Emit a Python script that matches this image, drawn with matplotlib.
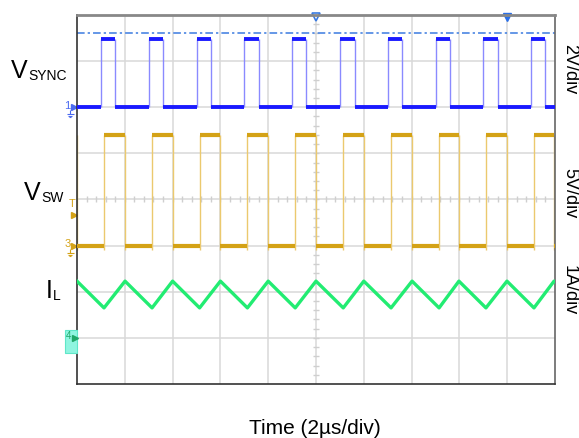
import numpy as np
import matplotlib
matplotlib.use("Agg")
import matplotlib.pyplot as plt
from matplotlib.patches import Rectangle

plt.rcParams['font.family'] = ['Liberation Sans', 'DejaVu Sans']

# scope settings (per division)
t_div = 2.0          # us/div
sync_vdiv = 2.0      # V/div
sw_vdiv = 5.0        # V/div
il_adiv = 1.0        # A/div

# ground reference positions (divisions from bottom)
sync_gnd = 6.0
sw_gnd = 3.0
il_gnd = 1.0

# V_SYNC edges (us) and levels (V)
t_sync_rise = [1.0, 3.0, 5.0, 7.0, 9.0, 11.0, 13.0, 15.0, 17.0, 19.0]
t_sync_fall = [1.61, 3.61, 5.62, 7.6, 9.6, 11.62, 13.6, 15.62, 17.6, 19.58]
v_sync_low = 0.0
v_sync_high = 2.95
v_sync_trig = 3.22

# V_SW edges (us) and levels (V)
t_sw_rise = [1.13, 3.14, 5.13, 7.13, 9.13, 11.14, 13.14, 15.15, 17.11, 19.12]
t_sw_fall = [0.02, 2.01, 4.0, 6.0, 8.0, 10.0, 12.0, 14.02, 15.98, 17.99, 19.96]
v_sw_low = 0.0
v_sw_high = 12.0

# inductor current (A)
il_peak = 1.23
il_valley = 0.65
il_end = 1.22

# markers on top of screen (us)
t_trig_pos = 10.0
t_cursor = 18.0

BLUE = "#1a1aff"
YELLOW = "#d4a216"
GREEN = "#22ec72"


def px(x, y):
    return x / 579, 1 - y / 438


def flat(y, x0, x1, **kw):
    # horizontal pieces of a trace at one level
    ax.hlines([y] * len(x0), x0, x1, **kw)


def ground(xp, yp, color):
    # little earth symbol, given in screen pixels
    sx = 20 / 478
    sy = 1 / 46.125
    x0 = (xp - 77) * sx
    y0 = (384 - yp) * sy
    kw = dict(color=color, lw=0.8, clip_on=False, solid_capstyle="butt")
    ax.plot([x0, x0], [y0, y0 - 4 * sy], **kw)
    for k, w in enumerate([3.5, 2.3, 1.0]):
        yy = y0 - (4 + 1.6 * k) * sy
        ax.plot([x0 - w * sx, x0 + w * sx], [yy, yy], **kw)


fig = plt.figure(figsize=(5.79, 4.38), dpi=100)
ax = fig.add_axes([77 / 579, 1 - 384 / 438, 478 / 579, 369 / 438])
ax.set_xlim(0, 10 * t_div)
ax.set_ylim(0, 8)

# graticule
for i in range(1, 10):
    ax.axvline(i * t_div, color="#d9d9d9", lw=1.1, zorder=0)
for j in range(1, 8):
    ax.axhline(j, color="#d9d9d9", lw=1.1, zorder=0)
ax.plot(np.arange(0.4, 20, 0.4), np.full(49, 4.0), ls="none", marker="|",
        ms=5, mew=1, color="#cfcfcf", zorder=0)
ax.plot(np.full(39, 10.0), np.arange(0.2, 8, 0.2), ls="none", marker="_",
        ms=5, mew=1, color="#cfcfcf", zorder=0)
ax.set_xticks([])
ax.set_yticks([])
for s in ["left", "bottom"]:
    ax.spines[s].set_color("#333333")
    ax.spines[s].set_linewidth(1.2)
ax.spines["top"].set_color("#888888")
ax.spines["top"].set_linewidth(2)
ax.spines["right"].set_color("#666666")
ax.spines["right"].set_linewidth(1.2)

# --- V_SYNC (blue) ---
lo = sync_gnd + v_sync_low / sync_vdiv
hi = sync_gnd + v_sync_high / sync_vdiv
ax.axhline(sync_gnd + v_sync_trig / sync_vdiv, color="#3b7be0", lw=1.1,
           dashes=(5, 2, 1.5, 2), zorder=1)
ax.vlines(t_sync_rise + t_sync_fall, lo, hi, color="#8a8aff", lw=1.0, zorder=2)
flat(lo, [0.0] + t_sync_fall, t_sync_rise + [20.0], color=BLUE, lw=2.8,
     zorder=3)
flat(hi, t_sync_rise, t_sync_fall, color=BLUE, lw=2.8, zorder=3)

# --- V_SW (yellow) ---
lo = sw_gnd + v_sw_low / sw_vdiv
hi = sw_gnd + v_sw_high / sw_vdiv
ax.vlines(t_sw_rise + t_sw_fall, lo - 0.1, hi, color="#ebc96e", lw=1.0, zorder=2)
flat(lo, t_sw_fall, t_sw_rise + [20.0], color=YELLOW, lw=3.0, zorder=3)
flat(hi, t_sw_rise, t_sw_fall[1:], color=YELLOW, lw=3.0, zorder=3)

# --- I_L (green) ---
t_il = [0.0]
i_il = [il_peak]
for r, f in zip(t_sw_rise, t_sw_fall[1:]):
    t_il += [r, f]
    i_il += [il_valley, il_peak]
t_il.append(20.0)
i_il.append(il_end)
ax.plot(t_il, [il_gnd + v / il_adiv for v in i_il], color=GREEN, lw=2.4,
        zorder=3)

# channel markers on left edge
ax.plot(-0.12, sync_gnd, marker=">", ms=5, color="#4a6af0", clip_on=False)
ax.text(-0.4, sync_gnd + 0.03, "1", color="#4a6af0", fontsize=8,
        ha="center", va="center", clip_on=False)
ground(70, 110, "#4a6af0")
ax.plot(-0.12, sw_gnd, marker=">", ms=5, color=YELLOW, clip_on=False)
ax.text(-0.4, sw_gnd + 0.03, "3", color=YELLOW, fontsize=8, ha="center",
        va="center", clip_on=False)
ground(70, 249, YELLOW)
ax.plot(-0.12, 3.67, marker=">", ms=5, color=YELLOW, clip_on=False)
ax.text(-0.2, 3.9, "T", color=YELLOW, fontsize=8, ha="center",
        va="center", clip_on=False)
ax.add_patch(Rectangle((-0.5, 0.67), 0.48, 0.5, fc="#8ff5e0", ec="#5fe6c8",
                       lw=0.8, clip_on=False, zorder=4))
ax.text(-0.36, il_gnd + 0.03, "4", color="#20a868", fontsize=7,
        ha="center", va="center", clip_on=False, zorder=5)
ax.plot(-0.1, il_gnd, marker=">", ms=4, color="#20a868", clip_on=False,
        zorder=5)
ground(70, 340, "#20a868")

# top markers
ax.plot(t_trig_pos, 7.96, marker="v", ms=6, mfc="white", mec="#3b7be0",
        mew=1.2, clip_on=False)
ax.plot(t_cursor, 7.96, marker="v", ms=6, color="#2a6fe8", clip_on=False)

# channel labels
for main, sub, xr, yb in [("V", "SYNC", 28, 78), ("V", "SW", 41, 200),
                          ("I", "L", 53, 298)]:
    fig.text(*px(xr, yb), main, fontsize=18, ha="right", va="baseline")
    fig.text(*px(xr, yb + 2), sub, fontsize=10, ha="left", va="baseline")

# scale labels on the right
for lab, yc in [("2V/div", 69), ("5V/div", 193), ("1A/div", 290)]:
    fig.text(*px(578, yc), lab, fontsize=13, rotation=270, ha="right",
             va="center")

fig.text(*px(315, 434), "Time (2\u00b5s/div)", fontsize=15, ha="center",
         va="baseline")

fig.savefig("out.png", dpi=100)
